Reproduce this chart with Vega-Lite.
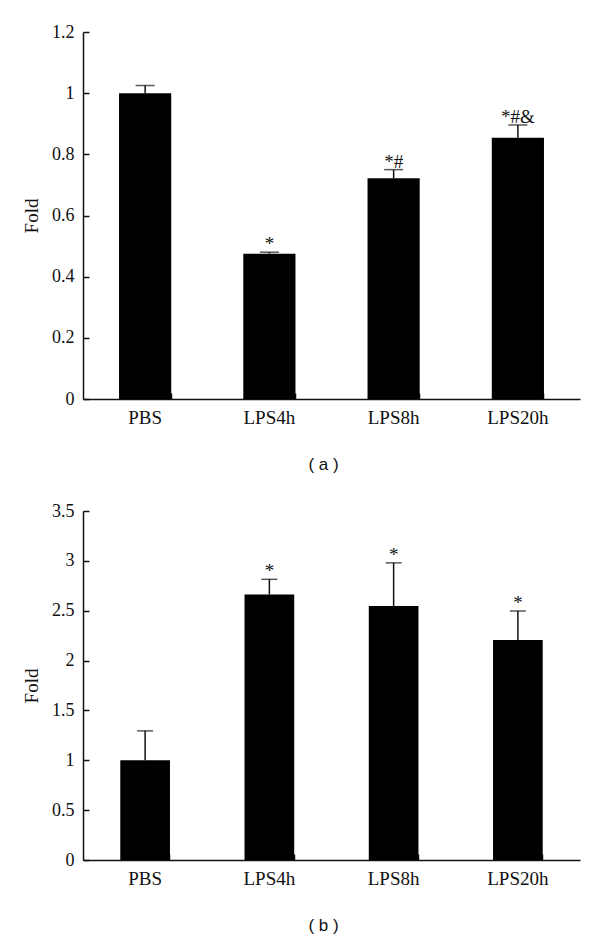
{
  "$schema": "https://vega.github.io/schema/vega-lite/v6.json",
  "padding": {"left": 22, "top": 23, "right": 10, "bottom": 5},
  "background": "white",
  "bounds": "flush",
  "spacing": 112,
  "config": {
    "view": {"stroke": null},
    "axis": {
      "labelFont": "Liberation Serif",
      "labelFontSize": 18,
      "labelColor": "#111",
      "titleFont": "Liberation Serif",
      "titleFontSize": 19,
      "titleFontWeight": "normal",
      "titleColor": "#111",
      "domainColor": "#111",
      "domainWidth": 1.5,
      "tickColor": "#111",
      "tickWidth": 1.5,
      "tickSize": -6,
      "grid": false
    },
    "title": {"font": "Liberation Sans", "fontSize": 17, "fontWeight": "normal", "color": "#111"}
  },
  "vconcat": [
    {
      "width": 497,
      "height": 367,
      "title": {"text": "(  a  )", "orient": "bottom", "offset": 30, "dx": -8},
      "data": {"values": [
        {"group": "PBS", "value": 1.0, "upper": 1.025, "sig": ""},
        {"group": "LPS4h", "value": 0.475, "upper": 0.48, "sig": "*"},
        {"group": "LPS8h", "value": 0.722, "upper": 0.75, "sig": "*#"},
        {"group": "LPS20h", "value": 0.854, "upper": 0.896, "sig": "*#&"}
      ]},
      "encoding": {
        "x": {"field": "group", "type": "nominal", "sort": null,
          "scale": {"paddingInner": 0.58, "paddingOuter": 0.29},
          "axis": {"title": null, "labelAngle": 0, "labelPadding": 15, "bandPosition": 1, "labelFontSize": 19}}
      },
      "layer": [
        {"mark": {"type": "bar", "color": "black"},
          "encoding": {"y": {"field": "value", "type": "quantitative",
            "scale": {"domain": [0, 1.2], "nice": false},
            "axis": {"title": "Fold", "values": [0, 0.2, 0.4, 0.6, 0.8, 1, 1.2], "format": "~g", "labelPadding": 15, "titlePadding": 10}}}},
        {"mark": {"type": "rule", "color": "#111", "strokeWidth": 1.5},
          "encoding": {"y": {"field": "value", "type": "quantitative"}, "y2": {"field": "upper"}}},
        {"mark": {"type": "tick", "color": "#111", "size": 19, "thickness": 1.5},
          "encoding": {"y": {"field": "upper", "type": "quantitative"}}},
        {"mark": {"type": "text", "font": "Liberation Serif", "fontSize": 19, "baseline": "alphabetic", "dy": -2, "color": "#111"},
          "encoding": {"y": {"field": "upper", "type": "quantitative"}, "text": {"field": "sig"}}}
      ]
    },
    {
      "width": 497,
      "height": 349,
      "title": {"text": "(  b  )", "orient": "bottom", "offset": 30, "dx": -8},
      "data": {"values": [
        {"group": "PBS", "value": 1.0, "upper": 1.295, "sig": ""},
        {"group": "LPS4h", "value": 2.662, "upper": 2.815, "sig": "*"},
        {"group": "LPS8h", "value": 2.548, "upper": 2.98, "sig": "*"},
        {"group": "LPS20h", "value": 2.207, "upper": 2.497, "sig": "*"}
      ]},
      "encoding": {
        "x": {"field": "group", "type": "nominal", "sort": null,
          "scale": {"paddingInner": 0.6, "paddingOuter": 0.3},
          "axis": {"title": null, "labelAngle": 0, "labelPadding": 15, "bandPosition": 1, "labelFontSize": 19}}
      },
      "layer": [
        {"mark": {"type": "bar", "color": "black"},
          "encoding": {"y": {"field": "value", "type": "quantitative",
            "scale": {"domain": [0, 3.5], "nice": false},
            "axis": {"title": "Fold", "values": [0, 0.5, 1, 1.5, 2, 2.5, 3, 3.5], "format": "~g", "labelPadding": 15, "titlePadding": 10}}}},
        {"mark": {"type": "rule", "color": "#111", "strokeWidth": 1.5},
          "encoding": {"y": {"field": "value", "type": "quantitative"}, "y2": {"field": "upper"}}},
        {"mark": {"type": "tick", "color": "#111", "size": 16, "thickness": 1.5},
          "encoding": {"y": {"field": "upper", "type": "quantitative"}}},
        {"mark": {"type": "text", "font": "Liberation Serif", "fontSize": 19, "baseline": "alphabetic", "dy": -2, "color": "#111"},
          "encoding": {"y": {"field": "upper", "type": "quantitative"}, "text": {"field": "sig"}}}
      ]
    }
  ]
}
